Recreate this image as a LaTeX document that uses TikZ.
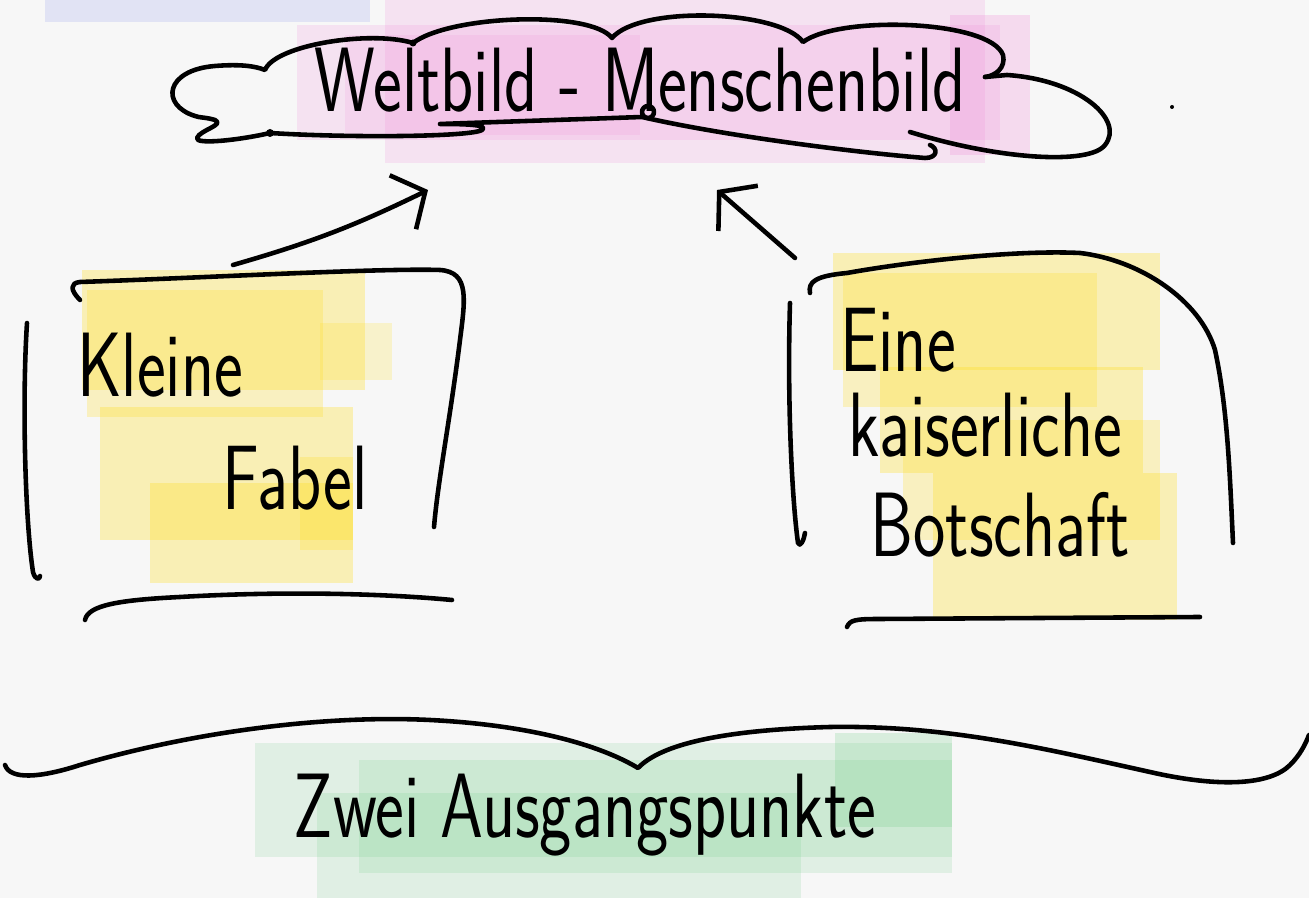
\documentclass[tikz,border=0pt]{standalone}
\usepackage{tikz}
\usepackage{graphicx}
\usetikzlibrary{arrows.meta}

\definecolor{SKPaper}{RGB}{247,247,247}
\definecolor{SKPink}{RGB}{240,135,215}
\definecolor{SKYellow}{RGB}{255,222,30}
\definecolor{SKGreen}{RGB}{95,200,120}
\definecolor{SKLavender}{RGB}{185,192,240}

\newcommand{\SKHand}[1]{\scalebox{0.75}[1]{#1}}
\newcommand{\SKMarker}[4]{
  \fill[#1, opacity=#2] #3 rectangle #4;
}

\begin{document}
\begin{tikzpicture}[x=0.01cm,y=-0.01cm,
  pen/.style={line width=1.3pt, line cap=round, line join=round},
  hand/.style={font=\sffamily\fontsize{26}{28}\selectfont, inner sep=0pt},
  pfeil/.style={pen, -{Straight Barb[length=2.5mm,width=6mm]}}]
\fill[SKPaper] (0,0) rectangle (1309,898);
\useasboundingbox (0,0) rectangle (1309,898);

% marker
\SKMarker{SKLavender}{0.35}{(45,0)}{(370,22)}
\SKMarker{SKPink}{0.18}{(297,25)}{(1000,140)}
\SKMarker{SKPink}{0.18}{(385,0)}{(985,163)}
\SKMarker{SKPink}{0.15}{(345,35)}{(640,135)}
\SKMarker{SKPink}{0.25}{(950,15)}{(1030,155)}

\SKMarker{SKYellow}{0.3}{(82,270)}{(365,390)}
\SKMarker{SKYellow}{0.25}{(87,290)}{(323,417)}
\SKMarker{SKYellow}{0.2}{(320,323)}{(392,380)}
\SKMarker{SKYellow}{0.3}{(100,407)}{(353,540)}
\SKMarker{SKYellow}{0.3}{(150,483)}{(353,583)}
\SKMarker{SKYellow}{0.25}{(300,457)}{(353,550)}

\SKMarker{SKYellow}{0.3}{(833,253)}{(1160,370)}
\SKMarker{SKYellow}{0.25}{(843,273)}{(1097,407)}
\SKMarker{SKYellow}{0.3}{(880,367)}{(1143,473)}
\SKMarker{SKYellow}{0.25}{(903,420)}{(1160,540)}
\SKMarker{SKYellow}{0.3}{(933,473)}{(1177,620)}

\SKMarker{SKGreen}{0.15}{(255,743)}{(952,857)}
\SKMarker{SKGreen}{0.15}{(317,793)}{(801,898)}
\SKMarker{SKGreen}{0.15}{(359,760)}{(952,873)}
\SKMarker{SKGreen}{0.2}{(835,733)}{(952,827)}

% texte
\node[hand] (welt) at (640,80) {\SKHand{Weltbild - Menschenbild}};
\node[hand] (kleine) at (160,365) {\SKHand{Kleine}};
\node[hand] (fabel) at (295,478) {\SKHand{Fabel}};
\node[hand] (eine) at (898,340) {\SKHand{Eine}};
\node[hand] (kaiser) at (985,425) {\SKHand{kaiserliche}};
\node[hand] (botschaft) at (1000,525) {\SKHand{Botschaft}};
\node[hand] (zwei) at (585,815) {\SKHand{Zwei Ausgangspunkte}};

% wolke
\draw[pen] (270,133) .. controls (240,140) and (195,145) .. (197,138)
  .. controls (200,130) and (225,125) .. (215,120)
  .. controls (205,117) and (200,118) .. (195,116)
  .. controls (160,105) and (165,70) .. (215,66)
  .. controls (240,64) and (255,66) .. (265,70)
  .. controls (275,45) and (370,30) .. (413,43)
  .. controls (450,15) and (590,10) .. (612,38)
  .. controls (640,5) and (780,10) .. (803,42)
  .. controls (840,15) and (990,20) .. (1003,55)
  .. controls (1006,68) and (995,76) .. (985,77);
\draw[pen] (270,133) .. controls (350,138) and (470,137) .. (482,130)
  .. controls (488,125) and (470,124) .. (440,124) -- (642,117)
  .. controls (720,135) and (850,152) .. (925,158)
  .. controls (938,158) and (938,148) .. (930,145);
\draw[pen] (985,77) -- (1007,75)
  .. controls (1080,80) and (1125,120) .. (1105,145)
  .. controls (1090,165) and (1000,160) .. (910,132);
\fill (270,133) circle (4);
\fill (413,43) circle (3.5);
\draw[pen] (648,112) circle (6);
\fill (1172,107) circle (2);

% pfeile
\coordinate (fabelTop) at (233,265);
\coordinate (weltL) at (428,190);
\coordinate (botschaftTop) at (795,258);
\coordinate (weltR) at (717,190);
\draw[pfeil] (fabelTop) to[bend right=5] (weltL);
\draw[pfeil] (botschaftTop) -- (weltR);

% klammern links
\draw[pen] (80,300) .. controls (70,290) and (70,283) .. (80,282)
  .. controls (200,278) and (380,268) .. (440,270)
  .. controls (470,272) and (465,300) .. (460,340)
  .. controls (450,420) and (438,480) .. (434,527);
\draw[pen] (27,323) .. controls (22,400) and (25,520) .. (33,572)
  .. controls (35,580) and (40,580) .. (40,576);
\draw[pen] (85,620) .. controls (88,605) and (120,600) .. (180,597)
  .. controls (300,590) and (400,595) .. (452,600);

% klammern rechts
\draw[pen] (790,303) .. controls (787,400) and (792,500) .. (798,543)
  .. controls (800,548) and (804,540) .. (805,533);
\draw[pen] (810,293) .. controls (808,282) and (815,276) .. (847,273)
  .. controls (920,260) and (1020,250) .. (1080,253)
  .. controls (1140,260) and (1200,300) .. (1215,350)
  .. controls (1228,410) and (1230,480) .. (1233,543);
\draw[pen] (847,627) .. controls (850,620) and (855,619) .. (880,619)
  -- (1200,617);

% geschweifte klammer
\draw[pen] (5,765) .. controls (10,780) and (40,778) .. (80,765)
  .. controls (200,730) and (330,715) .. (430,720)
  .. controls (530,725) and (600,745) .. (638,768)
  .. controls (660,745) and (720,730) .. (830,727)
  .. controls (950,725) and (1050,750) .. (1150,772)
  .. controls (1220,788) and (1270,785) .. (1290,765)
  .. controls (1300,755) and (1305,745) .. (1309,735);
\end{tikzpicture}
\end{document}
